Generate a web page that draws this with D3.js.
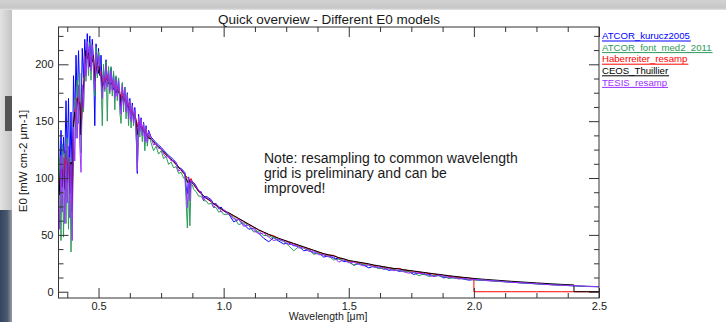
<!DOCTYPE html>
<html>
<head>
<meta charset="utf-8">
<script src="https://cdn.jsdelivr.net/npm/d3@7"></script>
<style>
  html, body { margin: 0; padding: 0; background: #fff; }
  svg { display: block; }
</style>
</head>
<body>
<div id="chart"></div>
<script>
// wavelength grid in micrometre (2.00 and 2.40 appear twice for the drops to zero)
var wavelength = [
  0.340,0.345,0.350,0.355,0.360,0.365,0.370,0.375,0.380,0.385,
  0.390,0.395,0.400,0.405,0.410,0.415,0.420,0.425,0.430,0.435,
  0.440,0.445,0.450,0.455,0.460,0.465,0.470,0.475,0.480,0.485,
  0.490,0.495,0.500,0.505,0.510,0.515,0.520,0.525,0.530,0.535,
  0.540,0.545,0.550,0.555,0.560,0.565,0.570,0.575,0.580,0.585,
  0.590,0.595,0.600,0.605,0.610,0.615,0.620,0.625,0.630,0.635,
  0.640,0.645,0.650,0.655,0.660,0.665,0.670,0.675,0.680,0.685,
  0.690,0.695,0.700,
  0.71,0.72,0.73,0.74,0.75,0.76,0.77,0.78,0.79,0.80,
  0.81,0.82,0.83,0.84,0.845,0.850,0.855,0.860,0.865,0.870,
  0.875,0.88,0.89,0.90,0.91,0.92,0.93,0.94,0.95,0.96,
  0.97,0.98,0.99,1.00,
  1.02,1.04,1.06,1.08,1.10,1.12,1.14,1.16,1.18,1.20,
  1.22,1.24,1.26,1.28,1.30,1.32,1.34,1.36,1.38,1.40,
  1.42,1.44,1.46,1.48,1.50,1.52,1.54,1.56,1.58,1.60,
  1.62,1.64,1.66,1.68,1.70,1.72,1.74,1.76,1.78,1.80,
  1.82,1.84,1.86,1.88,1.90,1.92,1.94,1.96,1.98,2.00,
  2.00,2.05,2.10,2.15,2.20,2.25,2.30,2.35,2.40,2.40,2.45,2.50
];

// E0 in mW cm-2 um-1, one array per model
var atcorKurucz = [
  138,90,142,98,136,112,168,115,170,105,
  158,92,190,150,208,165,212,172,150,214,
  188,222,198,227,202,225,198,222,202,146,
  218,198,214,190,208,176,196,182,204,182,
  196,178,197,178,192,172,189,172,188,168,
  160,183,165,180,160,175,156,170,152,166,
  150,162,145,104,156,142,153,138,149,134,
  146,132,142,
  136,133.5,131,129,127,124.5,122,120,118,116,
  113.5,109,108.5,106,104.7,92,86,101,88,98.5,
  97,96,93,88,88,82,84,82.5,81,77,
  77.5,73,74.5,71,
  68.5,61.5,63.5,59.5,55,56,51.5,47,44,47.5,
  44.5,42,43,40.5,40,36,37,34,34,30.5,
  31.5,29.5,29,26.5,26.5,23.3,25,23.3,21,22.5,
  20.8,21,18.8,19.5,18,18.4,17.8,15.2,16.6,15,
  15.4,13.8,14.3,12.2,13.1,12.1,12.1,11.1,10.2,10.7,
  10.6,9.8,9.2,8.4,7.6,7.0,6.4,5.7,5.2,5.2,4.6,4.4
];

var atcorFont = [
  50,118,45,130,48,122,60,135,55,118,
  35,95,120,170,135,186,148,192,122,176,
  158,205,185,216,190,219,186,213,194,172,
  215,188,211,204,188,146,200,176,203,150,
  198,174,198,172,194,160,190,168,188,158,
  148,184,158,180,152,174,146,168,144,163,
  146,159,140,108,153,136,151,132,147,124,
  143,128,140,
  131,124,128,121,124,117,119,112,114,109,
  110,104,105,100,101,80,56,97,58,95,
  94,90,88,84,84,80,80,77,78,74,
  74,70,71,68,
  68.2,65.7,59,60.7,58.2,52.5,53.2,49.5,49.2,47.2,
  45.7,44.2,40.5,36,39.7,38.2,36.7,33,33.7,32.2,
  31.2,28,28.7,27.7,26.2,23.3,24.7,24,23.2,22.2,
  20.3,20.7,20,19.2,18.7,18.1,17.5,16.9,14.1,15.7,
  13.4,14.5,14,13.4,11.6,12.3,11.8,11.3,10.9,10.4,
  10.4,10.0,9.0,8.4,7.7,6.9,6.3,5.7,5.2,5.2,4.8,4.4
];

var haberreiter = [
  100,96,103,107,101,116,120,112,114,100,
  104,82,146,160,160,170,172,165,148,170,
  182,195,212,210,208,204,205,207,206,192,
  197,200,197,196,194,185,183,188,191,190,
  186,186,187,185,182,180,179,180,178,176,
  169,175,173,171,168,167,165,162,160,158,
  157,155,152,145,150,149,147,145,143,142,
  140,139,137,
  134.2,131.7,129.2,127.2,125.2,122.7,120.2,118.2,116.2,114.2,
  111.7,109.2,106.7,104.2,102.9,101.7,100.4,99.2,97.9,99.5,
  95.4,94.2,91.2,88.2,86.2,84.2,82.2,80.7,79.2,77.2,
  75.7,74.2,72.7,71.2,
  69.2,66.7,64.2,61.7,59.2,56.7,54.2,52.2,50.2,49.3,
  46.7,45.2,43.7,42.2,40.7,39.2,37.7,36.2,34.7,33.2,
  32.2,32,29.7,28.7,27.2,26.5,25.7,25,24.2,23.2,
  22.5,21.7,21,20.2,20.6,19.1,18.5,17.9,17.3,16.7,
  16.1,15.5,15,14.4,13.8,13.3,12.8,12.3,11.9,11.4,
  0,0,0,0,0,0,0,0,0,0,0,0
];

var ceosThuillier = [
  110,85,108,92,112,90,124,96,120,86,
  114,70,148,158,152,170,166,166,138,168,
  180,192,212,205,210,198,206,202,208,185,
  194,202,192,198,190,180,184,184,188,186,
  183,182,184,182,178,178,175,178,175,174,
  164,172,170,168,166,164,162,160,158,156,
  155,153,150,138,148,147,145,143,141,140,
  138,137,135,
  134.5,132,129.5,127.5,125.5,123,120.5,118.5,116.5,114.5,
  112,109.5,107,104.5,103.2,100,96,99.5,96,97,
  95.7,94.5,91.5,88.5,86.5,84.5,82.5,81,79.5,77.5,
  76,74.5,73,71.5,
  69.5,67,64.5,62,59.5,57,54.5,52.5,50.5,48.5,
  47,45.5,44,42.5,41,39.5,38,36.5,35,33.5,
  32.5,31.5,30,29,27.5,26.8,26,25.3,24.5,23.5,
  22.8,22,21.3,20.5,20,19.4,18.8,18.2,17.6,17,
  16.4,15.8,15.3,14.7,14.1,13.6,13.1,12.6,12.2,11.7,
  11.7,10.8,10,9.2,8.5,7.8,7.1,6.5,6.0,0,0,0
];

var tesis = [
  88,55,120,70,118,60,130,78,128,65,
  112,45,145,115,168,135,182,130,105,182,
  162,207,190,220,196,216,194,217,196,178,
  210,192,207,202,186,170,190,178,199,180,
  192,176,194,177,188,170,186,172,185,168,
  156,181,164,178,158,173,152,168,150,164,
  148,160,144,106,154,141,152,137,148,132,
  145,131,141,
  135.3,129,130.3,126,126.3,121,118,119.3,115,115.3,
  112.8,106,107.8,105.3,104,90,74,100.3,80,97.8,
  96.5,95.3,92.3,89.3,87.3,80,83.3,81.8,80.3,74,
  76.8,75.3,70,72.3,
  68.7,64,63.7,57.5,58.7,54,51,51.7,48,45,
  46.2,44.7,41.5,41.7,38.5,38.7,35.5,35.7,32.5,32.7,
  30.5,30.7,26,28.2,25.5,26,24,22.8,23.7,21.5,
  22,19.5,20.5,18.5,19.2,17.5,16.3,17.4,16,16.2,
  14.5,13.3,14.5,13.9,12.5,12.8,11.1,11.8,11,10.9,
  10.8,10.1,9.3,8.3,7.8,7.1,6.2,5.8,5.4,5.4,4.9,4.5
];

var seriesNames = ["ATCOR_kurucz2005", "ATCOR_font_med2_2011", "Haberreiter_resamp", "CEOS_Thuillier", "TESIS_resamp"];
var seriesValues = [atcorKurucz, atcorFont, haberreiter, ceosThuillier, tesis];
var seriesColors = ["#0000ff", "#2e9a5a", "#ff0000", "#000000", "#9b30ff"];

var xTicks = [0.5, 1.0, 1.5, 2.0, 2.5];
var yTicks = [0, 50, 100, 150, 200];

var width = 726, height = 322;
var font = "'Liberation Sans', Arial, sans-serif";
var axisColor = "#333";
var textColor = "#1a1a1a";

var svg = d3.select("#chart").append("svg")
  .attr("width", width)
  .attr("height", height);

// window frame round the plot (screenshot shadow)
var defs = svg.append("defs");
var gTop = defs.append("linearGradient").attr("id", "topShade").attr("x1", 0).attr("y1", 0).attr("x2", 0).attr("y2", 1);
gTop.append("stop").attr("offset", "0%").attr("stop-color", "#d2d2d2");
gTop.append("stop").attr("offset", "80%").attr("stop-color", "#c6c6c6");
gTop.append("stop").attr("offset", "100%").attr("stop-color", "#e6e6e6");
var gLeft = defs.append("linearGradient").attr("id", "leftShade").attr("x1", 0).attr("y1", 0).attr("x2", 1).attr("y2", 0);
gLeft.append("stop").attr("offset", "0%").attr("stop-color", "#e2e2e2");
gLeft.append("stop").attr("offset", "100%").attr("stop-color", "#c4c4c4");
var gDesk = defs.append("linearGradient").attr("id", "deskShade").attr("x1", 0).attr("y1", 0).attr("x2", 1).attr("y2", 0);
gDesk.append("stop").attr("offset", "0%").attr("stop-color", "#33445c");
gDesk.append("stop").attr("offset", "60%").attr("stop-color", "#4a5870");
gDesk.append("stop").attr("offset", "100%").attr("stop-color", "#9a9ca4");

svg.append("rect").attr("width", width).attr("height", height).attr("fill", "#fff");
svg.append("rect").attr("x", 0).attr("y", 0).attr("width", width).attr("height", 10).attr("fill", "url(#topShade)");
svg.append("rect").attr("x", 0).attr("y", 10).attr("width", 12).attr("height", 200).attr("fill", "url(#leftShade)");
svg.append("rect").attr("x", 0).attr("y", 210).attr("width", 12).attr("height", 112).attr("fill", "url(#deskShade)");
svg.append("rect").attr("x", 5).attr("y", 96).attr("width", 7).attr("height", 35).attr("fill", "#555");

// scales: plot box is 58.5..599 by 27..298
var x = d3.scaleLinear().domain([0.34, 2.5]).range([58.5, 599]);
var y = d3.scaleLinear().domain([-5.5, 232.8]).range([298, 27]);

defs.append("clipPath").attr("id", "plotClip")
  .append("rect")
  .attr("x", x.range()[0]).attr("y", y.range()[1])
  .attr("width", x.range()[1] - x.range()[0])
  .attr("height", y.range()[0] - y.range()[1]);

// spectra, drawn in legend order so TESIS ends up on top
var line = d3.line()
  .x(function(d) { return x(d[0]); })
  .y(function(d) { return y(d[1]); });

var plot = svg.append("g").attr("clip-path", "url(#plotClip)");
for (var i = 0; i < seriesValues.length; i++) {
  plot.append("path")
    .datum(d3.zip(wavelength, seriesValues[i]))
    .attr("d", line)
    .attr("fill", "none")
    .attr("stroke", seriesColors[i])
    .attr("stroke-width", 1)
    .attr("stroke-linejoin", "round");
}

// axes, IDL style: ticks pointing inwards on all four sides
var xMinor = d3.range(0.375, 2.5, 0.125).filter(function(v) { return Math.abs(v * 2 - Math.round(v * 2)) > 1e-6; });
var yMinor = d3.range(12.5, 232, 12.5).filter(function(v) { return v % 50 !== 0; });

function styleAxis(g) {
  g.select(".domain").remove();
  g.selectAll(".tick line").attr("stroke", axisColor);
  g.selectAll(".tick text")
    .attr("fill", textColor)
    .attr("font-family", font)
    .attr("font-size", 11);
}

var yBottom = y.range()[0], yTop = y.range()[1];
var xLeft = x.range()[0], xRight = x.range()[1];

svg.append("g").attr("transform", "translate(0," + yBottom + ")")
  .call(d3.axisBottom(x).tickValues(xTicks).tickSize(-10).tickPadding(4.5).tickFormat(d3.format(".1f")))
  .call(styleAxis);
svg.append("g").attr("transform", "translate(0," + yBottom + ")")
  .call(d3.axisBottom(x).tickValues(xMinor).tickSize(-5).tickFormat(""))
  .call(styleAxis);
svg.append("g").attr("transform", "translate(0," + yTop + ")")
  .call(d3.axisTop(x).tickValues(xTicks).tickSize(-10).tickFormat(""))
  .call(styleAxis);
svg.append("g").attr("transform", "translate(0," + yTop + ")")
  .call(d3.axisTop(x).tickValues(xMinor).tickSize(-5).tickFormat(""))
  .call(styleAxis);

svg.append("g").attr("transform", "translate(" + xLeft + ",0)")
  .call(d3.axisLeft(y).tickValues(yTicks).tickSize(-10).tickPadding(5).tickFormat(d3.format("d")))
  .call(styleAxis);
svg.append("g").attr("transform", "translate(" + xLeft + ",0)")
  .call(d3.axisLeft(y).tickValues(yMinor).tickSize(-5).tickFormat(""))
  .call(styleAxis);
svg.append("g").attr("transform", "translate(" + xRight + ",0)")
  .call(d3.axisRight(y).tickValues(yTicks).tickSize(-10).tickFormat(""))
  .call(styleAxis);
svg.append("g").attr("transform", "translate(" + xRight + ",0)")
  .call(d3.axisRight(y).tickValues(yMinor).tickSize(-5).tickFormat(""))
  .call(styleAxis);

svg.append("rect")
  .attr("x", xLeft).attr("y", yTop)
  .attr("width", xRight - xLeft).attr("height", yBottom - yTop)
  .attr("fill", "none")
  .attr("stroke", axisColor)
  .attr("stroke-width", 1);

// titles
svg.append("text")
  .attr("x", 329).attr("y", 24)
  .attr("text-anchor", "middle")
  .attr("font-family", font).attr("font-size", 13.5)
  .attr("fill", textColor)
  .text("Quick overview - Different E0 models");

svg.append("text")
  .attr("x", 328).attr("y", 319.5)
  .attr("text-anchor", "middle")
  .attr("font-family", font).attr("font-size", 10.5)
  .attr("fill", textColor)
  .text("Wavelength [\u03bcm]");

svg.append("text")
  .attr("transform", "translate(27,161) rotate(-90)")
  .attr("text-anchor", "middle")
  .attr("font-family", font).attr("font-size", 11.5)
  .attr("fill", textColor)
  .text("E0 [mW cm-2 \u03bcm-1]");

// note inside the plot
var noteLines = ["Note: resampling to common wavelength", "grid is preliminary and can be", "improved!"];
svg.append("g").selectAll("text")
  .data(noteLines)
  .enter().append("text")
  .attr("x", 264)
  .attr("y", function(d, i) { return 163 + i * 15.2; })
  .attr("font-family", font).attr("font-size", 14)
  .attr("fill", textColor)
  .text(function(d) { return d; });

// legend: underlined coloured names right of the plot
var legend = svg.append("g").attr("transform", "translate(602,0)");
seriesNames.forEach(function(name, i) {
  var base = 39.2 + i * 11.6;
  var t = legend.append("text")
    .attr("x", 0).attr("y", base)
    .attr("font-family", font).attr("font-size", 9.6)
    .attr("fill", seriesColors[i])
    .text(name);
  var w = t.node().getComputedTextLength();
  legend.append("line")
    .attr("x1", 0).attr("x2", w + 1)
    .attr("y1", base + 1.8).attr("y2", base + 1.8)
    .attr("stroke", seriesColors[i])
    .attr("stroke-width", 1);
});
</script>
</body>
</html>
